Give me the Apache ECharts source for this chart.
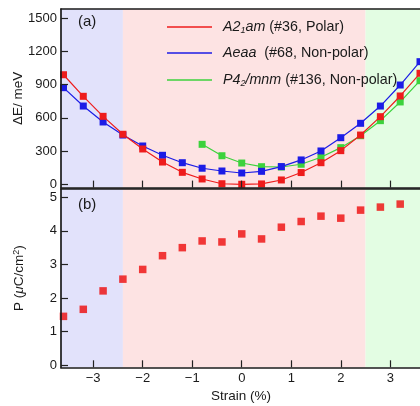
<!DOCTYPE html>
<html><head><meta charset="utf-8">
<script src="https://cdn.jsdelivr.net/npm/echarts@6/dist/echarts.min.js"></script>
<style>html,body{margin:0;padding:0;background:#fff}#c{width:420px;height:406px}</style>
</head><body><div id="c"></div>
<script>
// ---- data ----
const strain = [-3.6,-3.2,-2.8,-2.4,-2.0,-1.6,-1.2,-0.8,-0.4,0,0.4,0.8,1.2,1.6,2.0,2.4,2.8,3.2,3.6];
const eA21am = [990,795,614,452,319,201,108,48,5,0,3,39,106,195,304,445,611,798,1003];
const eAeaa  = [873,707,563,445,346,262,195,145,120,102,117,160,220,301,421,551,707,897,1108];
const strainP42 = [-0.8,-0.4,0,0.4,0.8,1.2,1.6,2.0,2.4,2.8,3.2,3.6];
const eP42mnm = [361,258,192,159,156,181,244,331,439,575,744,936];
const strainPol = [-3.6,-3.2,-2.8,-2.4,-2.0,-1.6,-1.2,-0.8,-0.4,0,0.4,0.8,1.2,1.6,2.0,2.4,2.8,3.2];
const polP = [1.45,1.66,2.21,2.56,2.85,3.26,3.50,3.70,3.67,3.91,3.76,4.11,4.28,4.44,4.38,4.62,4.71,4.80];
const xTicks = [-3,-2,-1,0,1,2,3];
const eTicks = [0,300,600,900,1200,1500];
const pTicks = [0,1,2,3,4,5];
const regionBounds = [-3.65,-2.4,2.5,3.62];
const regionColors = ['#e2e2fb','#fde3e3','#e3fde3'];
const seriesNames = ['A21am','Aeaa','P42mnm'];

const FONT = 'Liberation Sans, Arial, Helvetica, sans-serif';
const zip = (xs, ys) => xs.map((x, i) => [x, ys[i]]);
const minus = v => String(v).replace('-', '\u2212');

const areas = regionColors.map((c, i) => [
  {xAxis: regionBounds[i], itemStyle: {color: c, opacity: 1}},
  {xAxis: regionBounds[i + 1]}
]);

const axLine = {show: true, onZero: false, lineStyle: {color: '#1a1a1a', width: 1.7}};
function xAx(grid, pos, labels, name) {
  return {
    type: 'value', gridIndex: grid, position: pos, min: -3.65, max: 3.62, z: 10,
    axisLine: axLine,
    axisTick: {show: pos === 'bottom', inside: true, length: 7, customValues: xTicks, lineStyle: {color: '#222', width: 1.2}},
    axisLabel: {show: labels, customValues: xTicks, formatter: minus, margin: 5, fontSize: 13, color: '#1a1a1a', fontFamily: FONT},
    splitLine: {show: false},
    name: name || '', nameLocation: 'middle', nameGap: 22, nameMoveOverlap: false,
    nameTextStyle: {fontSize: 13.5, color: '#1a1a1a', fontFamily: FONT}
  };
}
function yAx(grid, min, max, ticks, name, gap, rich) {
  return {
    type: 'value', gridIndex: grid, min: min, max: max, z: 10,
    axisLine: axLine,
    axisTick: {show: true, inside: true, length: 7, customValues: ticks, lineStyle: {color: '#222', width: 1.2}},
    axisLabel: {customValues: ticks, formatter: v => String(v), margin: 4, fontSize: 13, color: '#1a1a1a', fontFamily: FONT},
    splitLine: {show: false},
    name: name, nameLocation: 'middle', nameGap: gap, nameMoveOverlap: false,
    nameTextStyle: {fontSize: 13.5, color: '#1a1a1a', fontFamily: FONT, rich: rich}
  };
}

const legendRich = {
  i: {fontStyle: 'italic', fontSize: 14.3, fontFamily: FONT, color: '#1a1a1a'},
  s: {fontStyle: 'italic', fontSize: 9, fontFamily: FONT, color: '#1a1a1a', verticalAlign: 'bottom', lineHeight: 10, padding: [8, 0, 0, 0]},
  n: {fontSize: 14.3, fontFamily: FONT, color: '#1a1a1a'}
};
const legendLabels = {
  'A21am': '{i|A2}{s|1}{i|am}{n| (#36, Polar)}',
  'Aeaa': '{i|Aeaa}{n|  (#68, Non-polar)}',
  'P42mnm': '{i|P4}{s|2}{i|/mnm}{n| (#136, Non-polar)}'
};

const lineSeries = (name, xs, ys, color, extra) => Object.assign({
  name: name, type: 'line', xAxisIndex: 0, yAxisIndex: 0,
  data: zip(xs, ys), symbol: 'rect', symbolSize: 7,
  lineStyle: {color: color, width: 1.2}, itemStyle: {color: color},
  animation: false
}, extra || {});

const chart = echarts.init(document.getElementById('c'), null, {renderer: 'canvas'});
chart.setOption({
  animation: false,
  backgroundColor: '#fff',
  textStyle: {fontFamily: FONT},
  grid: [
    {left: 61, top: 9, width: 360, height: 178.6, containLabel: false, outerBoundsMode: 'none'},
    {left: 61, top: 189, width: 360, height: 178.3, containLabel: false, outerBoundsMode: 'none'}
  ],
  xAxis: [
    xAx(0, 'bottom', false),
    xAx(0, 'top', false),
    xAx(1, 'bottom', true, 'Strain (%)'),
    xAx(1, 'top', false)
  ],
  yAxis: [
    yAx(0, -30, 1584, eTicks, '\u0394E/ meV', 36),
    yAx(1, -0.07, 5.25, pTicks, '{n|P (}{m|\u03bc}{n|C/cm}{p|2}{n|)}', 35, {
      n: {fontSize: 13.5, fontFamily: FONT, color: '#1a1a1a'},
      m: {fontSize: 13.5, fontFamily: FONT, color: '#1a1a1a', fontStyle: 'italic'},
      p: {fontSize: 9, fontFamily: FONT, color: '#1a1a1a', verticalAlign: 'top', lineHeight: 10, padding: [0, 0, 6, 0]}
    })
  ],
  legend: {
    orient: 'vertical', left: 167, top: 18, padding: 0, itemWidth: 45, itemHeight: 1.5, icon: 'rect',
    itemGap: 10, data: seriesNames, z: 20,
    formatter: n => legendLabels[n],
    textStyle: {rich: legendRich, padding: [0, 0, 0, 6], lineHeight: 16}
  },
  series: [
    lineSeries('A21am', strain, eA21am, '#ee1c1c', {z: 4, markArea: {silent: true, data: areas}}),
    lineSeries('Aeaa', strain, eAeaa, '#1c1ce6', {z: 3}),
    lineSeries('P42mnm', strainP42, eP42mnm, '#3cd23c', {z: 2}),
    {
      name: 'P', type: 'scatter', xAxisIndex: 2, yAxisIndex: 1,
      data: zip(strainPol, polP), symbol: 'rect', symbolSize: 7.5,
      itemStyle: {color: '#ee0a0a'},
      markArea: {silent: true, data: areas}
    }
  ],
  graphic: [
    {type: 'text', left: 78, top: 14, z: 100, style: {text: '(a)', fontSize: 15, fontFamily: FONT, fill: '#1a1a1a'}},
    {type: 'text', left: 78, top: 197, z: 100, style: {text: '(b)', fontSize: 15, fontFamily: FONT, fill: '#1a1a1a'}}
  ]
});
</script></body></html>
